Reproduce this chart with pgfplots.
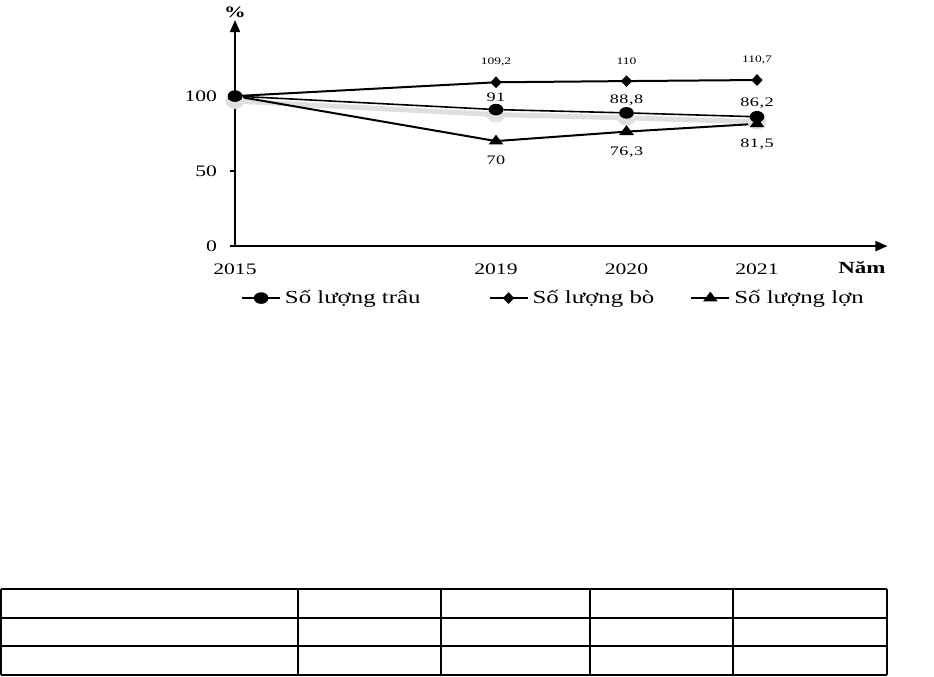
\documentclass[border=0pt]{standalone}
\usepackage{fontspec}
\setmainfont{Liberation Serif}[FakeStretch=1.35]
\newfontfamily\spaced{Liberation Serif}[FakeStretch=1.4,LetterSpace=4]
\usepackage{pgfplots}
\pgfplotsset{compat=1.18}
\usetikzlibrary{arrows.meta}
\begin{document}
\begin{tikzpicture}
\path (0,0) rectangle (467pt,338pt);
% empty table below the chart
\begin{scope}[line width=0.7pt]
\draw (0.5pt,43.5pt) -- (443.5pt,43.5pt);
\draw (0.5pt,29pt) -- (443.5pt,29pt);
\draw (0.5pt,15pt) -- (443.5pt,15pt);
\draw (0.5pt,0.5pt) -- (443.5pt,0.5pt);
\foreach \xx in {0.5,149,220.5,295,366.5,443.5}{\draw (\xx pt,0.5pt) -- (\xx pt,43.5pt);}
\end{scope}
\begin{axis}[
  at={(117.5pt,215pt)}, anchor=south west,
  scale only axis, width=326.25pt, height=113pt,
  xmin=0, xmax=5, ymin=0, ymax=150.67,
  axis lines=left,
  x axis line style={line width=0.9pt, -{Triangle[length=6pt,width=5pt]}},
  y axis line style={line width=0.9pt, -{Triangle[length=6pt,width=5pt]}},
  xtick={0,2,3,4}, xticklabels={2015,2019,2020,2021},
  ytick={0,50,100},
  tick align=outside, major tick length=2.5pt,
  x tick style={draw=none},
  y tick style={line width=0.8pt, black},
  tick label style={font=\fontsize{8}{9}\selectfont},
  /pgf/number format/assume math mode=true,
  xticklabel style={yshift=-3pt},
  yticklabel style={xshift=-3pt},
  clip=false,
  legend style={at={(0.499,0)}, anchor=center, xshift=-3pt, yshift=-26pt, draw=none, fill=none,
    font=\fontsize{9.2}{10}\selectfont, legend columns=3,
    /tikz/column 2/.style={column sep=32pt},
    /tikz/column 4/.style={column sep=16pt},
    /tikz/every odd column/.append style={column sep=0pt}},
  legend image code/.code={\draw[mark repeat=2,mark phase=2,#1] plot coordinates {(0pt,0pt) (9.5pt,0pt) (19pt,0pt)};},
]
% shadow of the buffalo line
\addplot[gray!25, line width=2.5pt, yshift=-2.5pt, mark=*, mark size=2.6pt, mark options={xscale=1.3, gray!25}, forget plot]
  coordinates {(0,100) (2,91) (3,88.8) (4,86.2)};
\addplot[black, line width=0.8pt, mark=*, mark size=2.5pt, mark options={xscale=1.3},
  nodes near coords, point meta=explicit symbolic,
  every node near coord/.style={font=\spaced\fontsize{6.5}{7}\selectfont, anchor=south, inner sep=0pt, yshift=3.5pt}]
  coordinates {(0,100)[] (2,91)[91] (3,88.8)[88,8] (4,86.2)[86,2]};
\addlegendentry{Số lượng trâu}
\addplot[black, line width=1pt, mark=diamond*, mark size=2.2pt, mark options={xscale=1.3},
  nodes near coords, point meta=explicit symbolic,
  every node near coord/.style={font=\fontsize{5}{6}\selectfont, anchor=south, inner sep=0pt, yshift=7.5pt}]
  coordinates {(0,100)[] (2,109.2)[109,2] (3,110)[110] (4,110.7)[110,7]};
\addlegendentry{Số lượng bò}
\addplot[black, line width=1pt, mark=triangle*, mark size=2.4pt, mark options={xscale=1.3},
  nodes near coords, point meta=explicit symbolic,
  every node near coord/.style={font=\spaced\fontsize{6.5}{7}\selectfont, anchor=north, inner sep=0pt, yshift=-7pt}]
  coordinates {(0,100)[] (2,70)[70] (3,76.3)[76,3] (4,81.5)[81,5]};
\addlegendentry{Số lượng lợn}
\end{axis}
\node[font=\bfseries\fontsize{8}{9}\selectfont] at (117.5pt,332pt) {\%};
\node[font=\bfseries\fontsize{8.5}{9}\selectfont] at (431pt,204pt) {Năm};
\end{tikzpicture}
\end{document}
